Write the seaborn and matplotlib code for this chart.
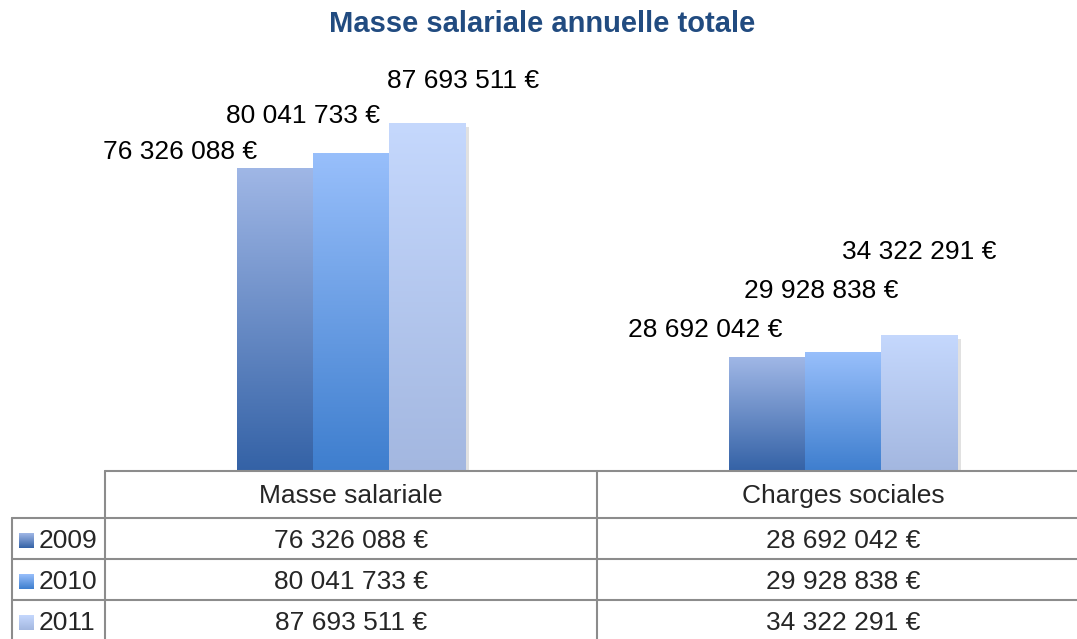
import numpy as np
import pandas as pd
import seaborn as sb
import matplotlib
matplotlib.use("Agg")
import matplotlib.pyplot as plt
from matplotlib.colors import LinearSegmentedColormap
from matplotlib.lines import Line2D
import matplotlib.patheffects as pe

# data
categories = ["Masse salariale", "Charges sociales"]
years = ["2009", "2010", "2011"]
masse = [76326088, 80041733, 87693511]
charges = [28692042, 29928838, 34322291]

W, H = 1077, 639

sb.set_style("white")
plt.rcParams['font.family'] = ['Liberation Sans', 'DejaVu Sans']

# gradient colours (bottom, top) per year
grad_colors = {
    "2009": ("#3462A6", "#A0B7E6"),
    "2010": ("#3E7ECE", "#98BFFB"),
    "2011": ("#A3B7E0", "#C5D8FD"),
}
# label offsets in pixels from the top centre of each bar (dx, dy)
label_offsets = [
    [(-95, 16), (-62, 27)],
    [(-48, 37), (-22, 61)],
    [(36, 42), (0, 83)],
]


def fmt(v):
    return f"{v:,}".replace(",", " ") + " €"


def px(x, y):
    return x / W, 1 - y / H


rows = []
for i, yr in enumerate(years):
    rows.append({"categorie": categories[0], "annee": yr, "montant": masse[i]})
    rows.append({"categorie": categories[1], "annee": yr, "montant": charges[i]})
df = pd.DataFrame(rows)

fig = plt.figure(figsize=(W / 100, H / 100), dpi=100)
ax_top = 60
ax_bot = 471
ax = fig.add_axes([105 / W, 1 - ax_bot / H, 984 / W, (ax_bot - ax_top) / H])

sb.barplot(data=df, x="categorie", y="montant", hue="annee", order=categories,
           hue_order=years, palette=[grad_colors[y][0] for y in years],
           width=0.464, legend=False, ax=ax)

ymax = (ax_bot - ax_top) / 3.97 * 1e6
grad = np.linspace(0, 1, 256).reshape(-1, 1)
for i, cont in enumerate(ax.containers):
    bottom, top = grad_colors[years[i]]
    cmap = LinearSegmentedColormap.from_list("g" + years[i], [bottom, top])
    for j, bar in enumerate(cont):
        bar.set_edgecolor("none")
        bar.set_path_effects([pe.SimplePatchShadow(offset=(3, -3), shadow_rgbFace="#888888", alpha=0.25),
                              pe.Normal()])
        x0, w, h = bar.get_x(), bar.get_width(), bar.get_height()
        im = ax.imshow(grad, extent=[x0, x0 + w, 0, h], origin="lower", cmap=cmap,
                       aspect="auto", zorder=3, interpolation="bilinear")
        im.set_clip_path(bar)
        dx, dy = label_offsets[i][j]
        ax.annotate(fmt(int(h)), (x0 + w / 2, h), xytext=(dx, dy), textcoords="offset pixels",
                    ha="center", va="center", fontsize=19, color="black")

ax.set_xlim(-0.5, 1.5)
ax.set_ylim(0, ymax)
ax.set_axis_off()

fig.text(*px(542, 24), "Masse salariale annuelle totale", ha="center", va="center",
         fontsize=21, fontweight="bold", color="#214B80")

# data table below the chart
line_kw = dict(color="#8C8C8C", lw=1.5)


def hline(y, x0, x1):
    fig.add_artist(Line2D([x0 / W, x1 / W], [1 - y / H, 1 - y / H], **line_kw))


def vline(x, y0, y1):
    fig.add_artist(Line2D([x / W, x / W], [1 - y0 / H, 1 - y1 / H], **line_kw))


hline(471, 105, W + 5)
for y in [518, 559, 600]:
    hline(y, 12, W + 5)
vline(105, 471, H + 5)
vline(597, 471, H + 5)
vline(12, 518, H + 5)

col_x = [351, 843]
for c, name in enumerate(categories):
    fig.text(*px(col_x[c], 496), name, ha="center", va="center", fontsize=19)

row_y = [541, 582, 623]
for i, yr in enumerate(years):
    fig.text(*px(39, row_y[i]), yr, ha="left", va="center", fontsize=19)
    fig.text(*px(col_x[0], row_y[i]), fmt(masse[i]), ha="center", va="center", fontsize=19)
    fig.text(*px(col_x[1], row_y[i]), fmt(charges[i]), ha="center", va="center", fontsize=19)
    bottom, top = grad_colors[yr]
    lax = fig.add_axes([19 / W, 1 - (row_y[i] + 7) / H, 15 / W, 15 / H])
    lax.imshow(grad, origin="lower", aspect="auto",
               cmap=LinearSegmentedColormap.from_list("l" + yr, [bottom, top]))
    lax.set_axis_off()

fig.savefig("out.png", dpi=100)
